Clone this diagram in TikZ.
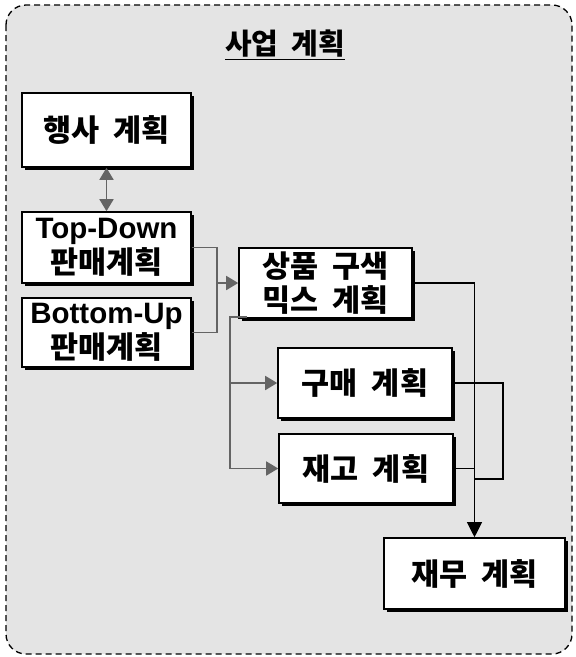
\documentclass[tikz,border=0pt]{standalone}
\usepackage{fontspec}
\setmainfont{Liberation Sans}
\newfontfamily\kr{Noto Sans CJK KR}[WordSpace=2.3]
\newfontfamily\krt{Noto Sans CJK KR}[WordSpace=2.0]
\newcommand\krbig{\kr\fontsize{30.5}{36}\selectfont}
\usetikzlibrary{shadows,arrows.meta}
\definecolor{bg}{HTML}{E4E4E4}
\definecolor{gline}{HTML}{646464}
\tikzset{
  box/.style={draw=black, line width=1.6pt, fill=white, align=center,
    font=\bfseries\fontsize{29.5}{36}\selectfont, inner sep=0pt,
    drop shadow={shadow xshift=3pt, shadow yshift=-3pt, fill=black, opacity=1}},
  gl/.style={draw=gline, line width=1.8pt},
  ga/.style={gl, -{Triangle[length=12pt,width=14pt]}},
  bl/.style={draw=black, line width=1.1pt},
  ba/.style={bl, -{Triangle[length=15pt,width=15pt]}},
}
\begin{document}
\begin{tikzpicture}[x=1pt,y=-1pt]
\useasboundingbox (0,0) rectangle (576,657);
\draw[line width=1.3pt, dash pattern=on 6pt off 4pt, fill=bg, rounded corners=20pt] (6,5) rectangle (572,654);
\node[font=\krt\bfseries\fontsize{29}{30}\selectfont] (title) at (285,45) {\underline{사업 계획}};

\node[box, minimum width=169pt, minimum height=74pt] (ev) at (106.5,130) {\krbig 행사 계획};
\node[box, minimum width=169pt, minimum height=71pt] (td) at (106.5,247.5) {Top-Down\\[-1pt]{\krbig 판매계획}};
\node[box, minimum width=169pt, minimum height=69pt] (bu) at (106.5,332.5) {Bottom-Up\\[-1pt]{\krbig 판매계획}};
\node[box, minimum width=173pt, minimum height=70pt] (mix) at (325.5,283) {\krbig 상품 구색\\[-2pt]\krbig 믹스 계획};
\node[box, minimum width=174pt, minimum height=70pt] (buy) at (365,383) {\krbig 구매 계획};
\node[box, minimum width=174pt, minimum height=69pt] (inv) at (366,468.5) {\krbig 재고 계획};
\node[box, minimum width=181pt, minimum height=71pt] (fin) at (474.5,573.5) {\krbig 재무 계획};

% gray connectors
\draw[gl, {Triangle[length=12pt,width=14pt]}-{Triangle[length=12pt,width=14pt]}] (ev.south) -- (td.north);
\coordinate (jt) at (217,247.5);
\coordinate (jb) at (217,332.5);
\coordinate (jm) at (217,283);
\draw[gl] (td.east) -- (jt) -- (jb) -- (bu.east);
\draw[ga] (jm) -- (mix.west);
\coordinate (ms) at (247,317);
\coordinate (mc) at (230,317);
\coordinate (mb) at (230,468.5);
\coordinate (mbuy) at (230,383);
\draw[gl] (ms) -- (mc) -- (mb);
\draw[ga] (mbuy) -- (buy.west);
\draw[ga] (mb) -- (inv.west);

% black connectors
\coordinate (r1) at (474.5,283);
\draw[ba] (mix.east) -- (r1) -- (fin.north);
\coordinate (r2) at (503,383);
\coordinate (r3) at (503,479);
\coordinate (r4) at (474.5,479);
\draw[bl] (buy.east) -- (r2) -- (r3) -- (r4);
\coordinate (r5) at (474.5,468.5);
\draw[bl] (inv.east) -- (r5);
\end{tikzpicture}
\end{document}
